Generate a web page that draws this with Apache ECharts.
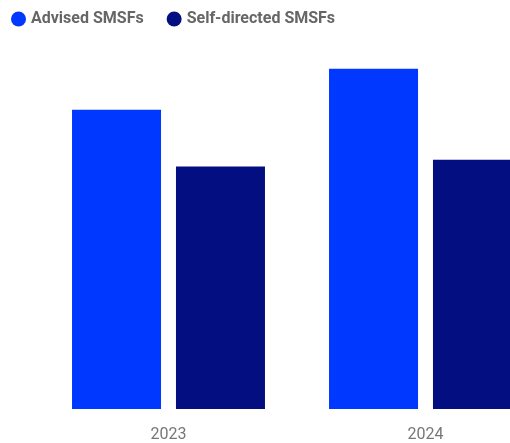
<!DOCTYPE html>
<html>
<head>
<meta charset="utf-8">
<script src="https://cdn.jsdelivr.net/npm/echarts@6/dist/echarts.min.js"></script>
<style>html,body{margin:0;padding:0;background:#fff;overflow:hidden;width:510px;height:443px;}#c{width:554px;height:443px;}</style>
</head>
<body>
<div id="c"></div>
<script>
const categories = ['2023', '2024'];
const advised = [3.00, 3.41];
const selfDirected = [2.43, 2.50];
const seriesNames = ['Advised SMSFs', 'Self-directed SMSFs'];

const chart = echarts.init(document.getElementById('c'), null, {renderer: 'canvas'});
chart.setOption({
  animation: false,
  textStyle: {fontFamily: 'Roboto'},
  legend: {
    left: 6, top: 6,
    icon: 'circle', itemWidth: 15, itemHeight: 15, itemGap: 23,
    textStyle: {color: '#666', fontWeight: 'bold', fontSize: 16, fontFamily: 'Roboto'},
    data: seriesNames
  },
  grid: {left: 40, right: 0, top: 10, bottom: 33, containLabel: false},
  xAxis: {
    type: 'category', data: categories,
    axisLine: {show: false}, axisTick: {show: false},
    axisLabel: {color: '#777', fontSize: 16, margin: 18, fontFamily: 'Roboto'}
  },
  yAxis: {type: 'value', min: 0, max: 4, show: false, splitLine: {show: false}},
  series: [
    {name: seriesNames[0], type: 'bar', data: advised, barWidth: 89, barGap: '16.8%', itemStyle: {color: '#0038FF'}},
    {name: seriesNames[1], type: 'bar', data: selfDirected, barWidth: 89, itemStyle: {color: '#030E80'}}
  ]
});
</script>
</body>
</html>
